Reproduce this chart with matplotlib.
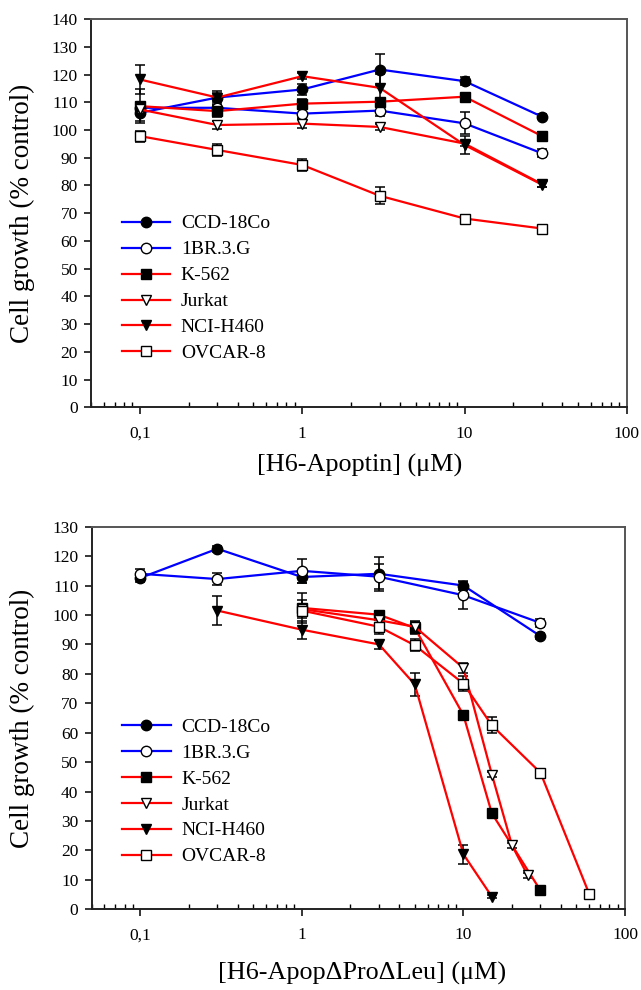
import matplotlib
matplotlib.use("Agg")
import matplotlib.pyplot as plt
from matplotlib.ticker import FixedLocator, LogLocator, NullFormatter

plt.rcParams["font.family"] = ["Liberation Serif", "DejaVu Serif"]

# ─── Data: top panel, H6-Apoptin ──────────────────────────────────────
conc_top = [0.1, 0.3, 1, 3, 10, 30]
ccd_top = [106.2, 111.7, 114.6, 121.8, 117.6, 104.8]
ccd_top_err = [3, 1.5, 2, 5.5, 1.5, 1]
br_top = [108, 108, 105.9, 107, 102.4, 91.6]
br_top_err = [1, 1, 1.5, 2, 4, 1.5]
k562_top = [108.6, 106.8, 109.5, 110.2, 112, 97.8]
k562_top_err = [6, 2, 1.5, 1, 1, 1]
jurkat_top = [107.4, 101.8, 102.3, 101.1, 95.1, 80.5]
jurkat_top_err = [1.5, 1.5, 1.5, 1, 1, 1]
nci_top = [118.2, 111.7, 119.4, 115.2, 94.6, 80.3]
nci_top_err = [5.4, 2.5, 1, 5, 3.2, 1]
ovcar_top = [97.8, 92.8, 87.4, 76.3, 68.1, 64.5]
ovcar_top_err = [2, 2, 2, 3, 1, 1]

# ─── Data: bottom panel, H6-ApopΔProΔLeu ──────────────────────────────
conc_ccd = [0.1, 0.3, 1, 3, 10, 30]
ccd_bot = [112.6, 122.5, 112.9, 114, 110, 92.8]
ccd_bot_err = [1.5, 1, 2, 5.7, 1.5, 1]
conc_br = [0.1, 0.3, 1, 3, 10, 30]
br_bot = [114, 112.2, 115, 113, 106.7, 97.3]
br_bot_err = [1.5, 2, 4, 4.3, 4.5, 1.5]
conc_k562 = [1, 3, 5, 10, 15, 30]
k562_bot = [102.4, 100.1, 95.6, 66, 32.6, 6.4]
k562_bot_err = [5, 1, 2, 1, 1, 1]
conc_jurkat = [1, 3, 5, 10, 15, 20, 25]
jurkat_bot = [102, 98.2, 96, 82, 45.8, 21.7, 11.5]
jurkat_bot_err = [3, 1, 2, 1.7, 1, 1, 1]
conc_nci = [0.3, 1, 3, 5, 10, 15]
nci_bot = [101.5, 95, 90, 76.4, 18.7, 4.3]
nci_bot_err = [5, 3, 1.5, 4, 3.2, 0.5]
conc_ovcar = [1, 3, 5, 10, 15, 30, 60]
ovcar_bot = [101.5, 96, 89.7, 76.7, 62.5, 46.4, 5.3]
ovcar_bot_err = [2, 2.5, 2, 2.5, 2.7, 1, 1]

cell_lines = ["CCD-18Co", "1BR.3.G", "K-562", "Jurkat", "NCI-H460", "OVCAR-8"]
x_ticks = [0.1, 1, 10, 100]
x_tick_labels = ["0,1", "1", "10", "100"]

BLUE = "#0000ff"
RED = "#ff0000"
# colour, marker, face colour per cell line
STYLES = [
    (BLUE, "o", "black"),
    (BLUE, "o", "white"),
    (RED, "s", "black"),
    (RED, "v", "white"),
    (RED, "v", "black"),
    (RED, "s", "white"),
]


def _draw_series(ax, xs, ys, errs):
    for i, (x, y, e) in enumerate(zip(xs, ys, errs)):
        color, marker, face = STYLES[i]
        ax.errorbar(x, y, yerr=e, fmt="none", ecolor="black", elinewidth=1.1,
                    capsize=3.8, capthick=1.1, zorder=2)
        ax.plot(x, y, color=color, linewidth=1.6, marker=marker, markersize=7.5,
                markerfacecolor=face, markeredgecolor="black", markeredgewidth=1.0,
                label=cell_lines[i], zorder=3)


def _style_axis(ax, ymax, legend_top):
    ax.set_xscale("log")
    ax.set_xlim(0.05, 100)
    ax.set_ylim(0, ymax)
    ax.xaxis.set_major_locator(FixedLocator(x_ticks))
    ax.set_xticklabels(x_tick_labels)
    ax.xaxis.set_minor_locator(LogLocator(base=10, subs=range(2, 10)))
    ax.xaxis.set_minor_formatter(NullFormatter())
    ax.set_yticks(range(0, ymax + 1, 10))
    ax.tick_params(axis="x", which="major", direction="out", length=5, width=1.1,
                   pad=8, labelsize=12.5)
    ax.tick_params(axis="x", which="minor", direction="in", length=3.5, width=1.0)
    ax.tick_params(axis="y", which="major", direction="out", length=5, width=1.1,
                   pad=4.5, labelsize=12.5)
    for side in ["left", "bottom"]:
        ax.spines[side].set_color("#222222")
        ax.spines[side].set_linewidth(1.4)
    for side in ["top", "right"]:
        ax.spines[side].set_color("#555555")
        ax.spines[side].set_linewidth(1.4)
    ax.legend(loc="upper left", bbox_to_anchor=(0.057, legend_top), frameon=False,
              fontsize=14, handlelength=2.5, handletextpad=0.55, labelspacing=0.43,
              borderaxespad=0, borderpad=0)


fig = plt.figure(figsize=(6.41, 9.9), dpi=100)

ax1 = fig.add_axes([0.142, 0.5884, 0.836, 0.3924])
_draw_series(ax1, [conc_top] * 6,
             [ccd_top, br_top, k562_top, jurkat_top, nci_top, ovcar_top],
             [ccd_top_err, br_top_err, k562_top_err, jurkat_top_err, nci_top_err, ovcar_top_err])
_style_axis(ax1, 140, 0.496)

ax2 = fig.add_axes([0.143, 0.0815, 0.832, 0.3865])
_draw_series(ax2, [conc_ccd, conc_br, conc_k562, conc_jurkat, conc_nci, conc_ovcar],
             [ccd_bot, br_bot, k562_bot, jurkat_bot, nci_bot, ovcar_bot],
             [ccd_bot_err, br_bot_err, k562_bot_err, jurkat_bot_err, nci_bot_err, ovcar_bot_err])
_style_axis(ax2, 130, 0.5)

# axis titles placed in figure pixels
fig.text(22 / 641, 1 - 213 / 990, "Cell growth (% control)", rotation=90,
         ha="center", va="center", fontsize=19.5)
fig.text(22 / 641, 1 - 718 / 990, "Cell growth (% control)", rotation=90,
         ha="center", va="center", fontsize=19.5)
fig.text(360 / 641, 1 - 465 / 990, "[H6-Apoptin] (μM)", ha="center", va="center",
         fontsize=18.8)
fig.text(362 / 641, 1 - 973 / 990, "[H6-ApopΔProΔLeu] (μM)", ha="center", va="center",
         fontsize=18.8)

fig.savefig("out.png", dpi=100)
